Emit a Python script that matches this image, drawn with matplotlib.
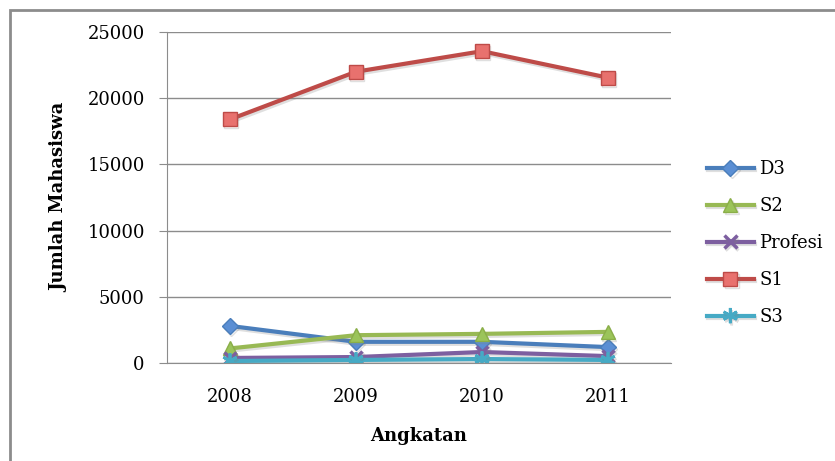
import matplotlib
matplotlib.use('Agg')
import matplotlib.pyplot as plt
from matplotlib.patches import Rectangle
import matplotlib.patheffects as pe

tahun = ['2008', '2009', '2010', '2011']
d3 = [2800, 1600, 1600, 1200]
s2 = [1100, 2100, 2200, 2350]
profesi = [380, 450, 830, 520]
s1 = [18400, 22000, 23550, 21550]
s3 = [150, 230, 300, 230]

plt.rcParams['font.family'] = 'DejaVu Serif'
fs = 13

fig = plt.figure(figsize=(8.35, 4.61), dpi=100)
ax = fig.add_axes([0.2, 0.2126, 0.6036, 0.718])

x = list(range(len(tahun)))
shadow = [pe.SimpleLineShadow(offset=(1, -1.5), alpha=0.25, shadow_color='gray'), pe.Normal()]

ax.plot(x, d3, color='#4A7EBB', lw=3, marker='D', ms=8, mfc='#5B8FD4', mec='#4A7EBB', label='D3', path_effects=shadow)
ax.plot(x, s2, color='#98B954', lw=3, marker='^', ms=10, mfc='#9BC45A', mec='#8AAE48', label='S2', path_effects=shadow)
ax.plot(x, profesi, color='#7D5FA0', lw=3, marker='x', ms=9, mew=2.5, label='Profesi', path_effects=shadow)
ax.plot(x, s1, color='#BE4B48', lw=3, marker='s', ms=10, mfc='#E8716E', mec='#BE4B48', label='S1', path_effects=shadow)
ax.plot(x, s3, color='#46AAC5', lw=3, marker=(6, 2, 0), ms=11, mew=2, label='S3', path_effects=shadow)

ax.set_xlim(-0.5, 3.5)
ax.set_ylim(0, 25000)
ax.set_yticks(range(0, 25001, 5000))
ax.set_xticks(x)
ax.set_xticklabels(tahun)
ax.grid(axis='y', color='#8C8C8C', lw=1)
ax.set_axisbelow(True)
for s in ['top', 'right']:
    ax.spines[s].set_visible(False)
ax.spines['left'].set_color('#8C8C8C')
ax.spines['bottom'].set_color('#8C8C8C')
ax.tick_params(axis='y', length=6, color='#8C8C8C', labelsize=fs, pad=10)
ax.tick_params(axis='x', length=0, labelsize=fs, pad=18)

ax.set_xlabel('Angkatan', fontsize=fs, fontweight='bold', labelpad=15)
ax.set_ylabel('Jumlah Mahasiswa', fontsize=fs, fontweight='bold', labelpad=14)

ax.legend(loc='upper left', bbox_to_anchor=(0.827, 0.688), bbox_transform=fig.transFigure,
          frameon=False, fontsize=fs, handlelength=2.6, labelspacing=1.05, handletextpad=0.3)

fig.patches.append(Rectangle((0.012, -0.1), 1.2, 1.078, transform=fig.transFigure,
                             fill=False, edgecolor='#8C8C8C', lw=2))

fig.savefig('out.png', dpi=100)
